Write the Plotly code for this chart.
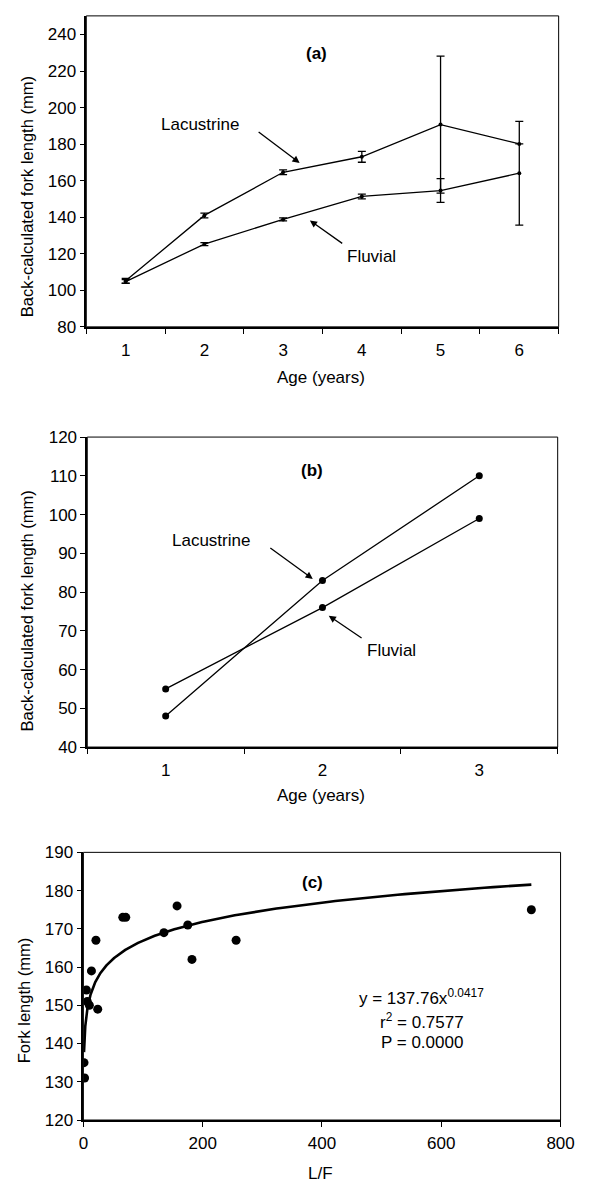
import numpy as np
import plotly.graph_objects as go

W, H = 592, 1193
FONT = "Liberation Sans, Arial, sans-serif"

# ---------- Panel (a) ----------
age_a = [1, 2, 3, 4, 5, 6]
lac_a = [105.2, 141.0, 164.6, 173.1, 190.7, 180.1]
lac_a_err = [1.3, 1.3, 1.3, 3.0, 37.5, None]
flu_a = [104.8, 125.3, 138.8, 151.4, 154.6, 164.1]
flu_a_err = [1.0, 0.8, 0.8, 1.3, 6.5, 28.4]

# ---------- Panel (b) ----------
age_b = [1, 2, 3]
lac_b = [48, 83, 110]
flu_b = [55, 76, 99]

# ---------- Panel (c) ----------
lf_c = [2, 1, 5, 6.5, 10, 24, 13.5, 21, 66, 71, 135, 157, 175, 182, 256, 751]
fl_c = [131, 135, 154, 151, 150, 149, 159, 167, 173, 173, 169, 176, 171, 162, 167, 175]
FIT_A = 137.76
FIT_B = 0.0417

def px_dom_x(l, r):
    return [l / W, r / W]

def px_dom_y(t, b):
    return [1 - b / H, 1 - t / H]

fig = go.Figure()

line_style = dict(color="black", width=1.3)
err_style = dict(type="data", visible=True, color="black", thickness=1.3, width=4)

lac_err_arr = [float("nan") if e is None else e for e in lac_a_err]

fig.add_trace(go.Scatter(x=age_a, y=lac_a, mode="lines+markers", line=line_style,
                         marker=dict(size=4, color="black"),
                         error_y=dict(array=lac_err_arr, **err_style), xaxis="x", yaxis="y",
                         showlegend=False))
fig.add_trace(go.Scatter(x=age_a, y=flu_a, mode="lines+markers", line=line_style,
                         marker=dict(size=4, color="black"),
                         error_y=dict(array=flu_a_err, **err_style), xaxis="x", yaxis="y",
                         showlegend=False))

fig.add_trace(go.Scatter(x=age_b, y=lac_b, mode="lines+markers", line=line_style,
                         marker=dict(size=7, color="black"), xaxis="x2", yaxis="y2",
                         showlegend=False))
fig.add_trace(go.Scatter(x=age_b, y=flu_b, mode="lines+markers", line=line_style,
                         marker=dict(size=7, color="black"), xaxis="x2", yaxis="y2",
                         showlegend=False))

fig.add_trace(go.Scatter(x=lf_c, y=fl_c, mode="markers",
                         marker=dict(size=9, color="black"), xaxis="x3", yaxis="y3",
                         showlegend=False))
xf = np.geomspace(min(lf_c), max(lf_c), 300)
fig.add_trace(go.Scatter(x=xf, y=FIT_A * xf ** FIT_B, mode="lines",
                         line=dict(color="black", width=2.6), xaxis="x3", yaxis="y3",
                         showlegend=False))

tickfont = dict(family=FONT, size=17, color="black")
axis_common = dict(showline=True, linecolor="black", linewidth=1.6, showgrid=False,
                   zeroline=False, tickfont=tickfont, tickcolor="black", ticklen=5,
                   tickwidth=1)

cat_minor = dict(ticks="outside", tick0=0.5, dtick=1, ticklen=5, tickcolor="black",
                 tickwidth=1, showgrid=False)

fig.update_layout(
    width=W, height=H, margin=dict(l=0, r=0, t=0, b=0),
    paper_bgcolor="white", plot_bgcolor="white",
    font=dict(family=FONT, color="black"),
    xaxis=dict(domain=px_dom_x(84, 572), anchor="y", range=[0.5, 6.5],
               tickvals=age_a, ticks="", minor=cat_minor, ticklabelstandoff=7,
               **axis_common),
    yaxis=dict(domain=px_dom_y(7, 323), anchor="x", range=[80, 250.2],
               tickvals=list(range(80, 241, 20)), ticks="outside", **axis_common),
    xaxis2=dict(domain=px_dom_x(85, 571), anchor="y2", range=[0.5, 3.5],
                tickvals=age_b, ticks="", minor=cat_minor, ticklabelstandoff=7,
                **axis_common),
    yaxis2=dict(domain=px_dom_y(435, 750), anchor="x2", range=[40, 120],
                tickvals=list(range(40, 121, 10)), ticks="outside", **axis_common),
    xaxis3=dict(domain=px_dom_x(81, 574), anchor="y3", range=[0, 800],
                tickvals=list(range(0, 801, 200)), ticks="outside", ticklabelstandoff=2,
                **axis_common),
    yaxis3=dict(domain=px_dom_y(857, 1129), anchor="x3", range=[120, 190],
                tickvals=list(range(120, 191, 10)), ticks="outside", **axis_common),
)

# plot-area boxes
for xr, yr in [("x", "y"), ("x2", "y2"), ("x3", "y3")]:
    fig.add_shape(type="rect", xref=f"{xr} domain", yref=f"{yr} domain",
                  x0=0, x1=1, y0=0, y1=1, line=dict(color="black", width=1))

anns = []

def text(x, y, s, xr, yr, bold=False, size=17, align="center"):
    f = dict(family=FONT, size=size, color="black")
    anns.append(dict(x=x, y=y, xref=xr, yref=yr, text=f"<b>{s}</b>" if bold else s,
                     showarrow=False, font=f, align=align))

def arrow(x0, y0, x1, y1, xr, yr):
    anns.append(dict(x=x1, y=y1, ax=x0, ay=y0, xref=xr, yref=yr, axref=xr, ayref=yr,
                     text="", showarrow=True, arrowhead=2, arrowsize=1.1,
                     arrowwidth=1.3, arrowcolor="black"))

# Panel (a)
text(3.42, 229.5, "(a)", "x", "y", bold=True)
text(1.95, 191.0, "Lacustrine", "x", "y")
arrow(2.67, 187.3, 3.21, 169.7, "x", "y")
text(4.12, 118.4, "Fluvial", "x", "y")
arrow(3.77, 125.1, 3.34, 138.2, "x", "y")

# Panel (b)
text(1.935, 111.5, "(b)", "x2", "y2", bold=True)
text(1.29, 93.2, "Lacustrine", "x2", "y2")
arrow(1.658, 91.65, 1.938, 83.4, "x2", "y2")
text(2.44, 64.8, "Fluvial", "x2", "y2")
arrow(2.259, 67.9, 2.04, 73.9, "x2", "y2")

# Panel (c)
text(384, 182.0, "(c)", "x3", "y3", bold=True)
text(567, 152.2, "y = 137.76x<sup>0.0417</sup>", "x3", "y3")
text(567, 146.0, "r<sup>2</sup> = 0.7577", "x3", "y3")
text(567, 140.4, "P = 0.0000", "x3", "y3")

# Axis titles (paper coords)
def ptext(xp, yp, s, angle=0, size=17):
    anns.append(dict(x=xp / W, y=1 - yp / H, xref="paper", yref="paper", text=s,
                     showarrow=False, textangle=angle,
                     font=dict(family=FONT, size=size, color="black"),
                     xanchor="center", yanchor="middle"))

ptext(23, 191, "Back-calculated fork length (mm)", angle=-90, size=16.5)
ptext(326, 374, "Age (years)")
ptext(23, 612, "Back-calculated fork length (mm)", angle=-90, size=16.5)
ptext(326, 799, "Age (years)")
ptext(20, 1007, "Fork length (mm)", angle=-90, size=16.5)
ptext(326, 1183, "L/F")

fig.update_layout(annotations=anns)
fig.write_html("out.html")
